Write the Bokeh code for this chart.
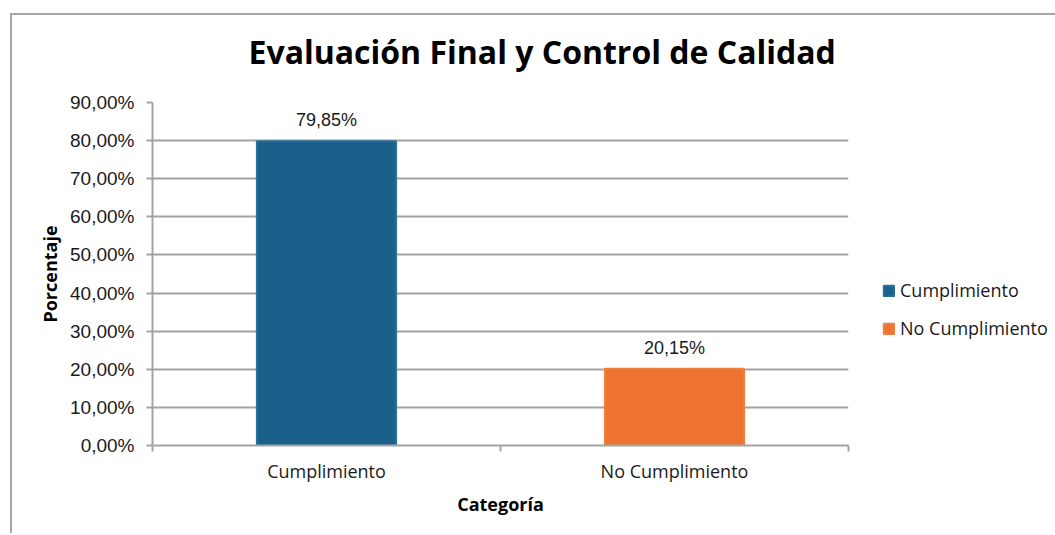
from bokeh.plotting import figure
from bokeh.models import (FixedTicker, Legend, LegendItem, ColumnDataSource, Title)
from bokeh.core.properties import value
from bokeh.embed import file_html
from bokeh.resources import INLINE

# ---- data ----
categories = ["Cumplimiento", "No Cumplimiento"]
percentages = [79.85, 20.15]
bar_colors = ["#19618a", "#ee7331"]
edge_colors = ["#2a6f98", "#f08040"]
y_ticks = [0, 10, 20, 30, 40, 50, 60, 70, 80, 90]
y_tick_labels = ["0,00%", "10,00%", "20,00%", "30,00%", "40,00%",
                 "50,00%", "60,00%", "70,00%", "80,00%", "90,00%"]
title_text = "Evaluación Final y Control de Calidad"
x_label = "Categoría"
y_label = "Porcentaje"

xs = [i + 0.5 for i in range(len(categories))]
labels = [f"{v:.2f}".replace(".", ",") + "%" for v in percentages]
src = ColumnDataSource(dict(x=xs, top=percentages, lab=labels))

GRID = "#a3a3a3"
TXT = "#1a1a1a"
UI_FONT = "Open Sans"
NUM_FONT = "Liberation Sans"
EDGE = "#a6a6a6"

p = figure(frame_width=696, frame_height=343, x_range=(0, len(categories)),
           y_range=(0, 90), output_backend="svg", toolbar_location=None,
           min_border_left=142, min_border_top=102, min_border_bottom=88,
           min_border_right=0)
# chart-area border (left and top edges), drawn behind a transparent canvas
p.styles = {
    "margin-left": "10px",
    "background": (f"linear-gradient({EDGE},{EDGE}) 0 13px / 100% 2px no-repeat, "
                   f"linear-gradient({EDGE},{EDGE}) 0 13px / 2px 100% no-repeat, white"),
}
p.outline_line_color = None
p.background_fill_color = "white"
p.border_fill_alpha = 0

t = Title(text=title_text, align="left", offset=96, standoff=55,
          vertical_align="top",
          text_font=UI_FONT, text_font_size="32px", text_font_style="bold",
          text_color="#000000")
p.add_layout(t, "above")

renderers = []
for i in range(len(categories)):
    r = p.vbar(x=[xs[i]], top=[percentages[i]], width=0.4,
               fill_color=bar_colors[i], line_color=edge_colors[i], line_width=2)
    renderers.append(r)

p.text(x="x", y="top", text="lab", source=src, text_align="center",
       text_baseline="middle", y_offset=-21, text_font=value(NUM_FONT),
       text_font_size="18px", text_color=TXT)

# grid
p.xgrid.grid_line_color = None
p.ygrid.ticker = FixedTicker(ticks=y_ticks)
p.ygrid.grid_line_color = GRID
p.ygrid.grid_line_width = 2

# y axis
ya = p.yaxis[0]
ya.ticker = FixedTicker(ticks=y_ticks, minor_ticks=[])
ya.major_label_overrides = {t_: l for t_, l in zip(y_ticks, y_tick_labels)}
ya.axis_line_color = GRID
ya.axis_line_width = 2
ya.major_tick_line_color = GRID
ya.major_tick_line_width = 2
ya.major_tick_out = 6
ya.major_tick_in = 0
ya.major_label_standoff = 12
ya.major_label_text_font = NUM_FONT
ya.major_label_text_font_size = "19px"
ya.major_label_text_color = TXT
ya.axis_label = y_label
ya.axis_label_text_font = UI_FONT
ya.axis_label_text_font_size = "18px"
ya.axis_label_text_font_style = "bold"
ya.axis_label_text_color = "#000000"
ya.axis_label_standoff = 5

# x axis
xa = p.xaxis[0]
xa.ticker = FixedTicker(ticks=xs, minor_ticks=[float(i) for i in range(len(categories) + 1)])
xa.major_label_overrides = {x_: c for x_, c in zip(xs, categories)}
xa.axis_line_color = GRID
xa.axis_line_width = 2
xa.major_tick_line_color = None
xa.minor_tick_line_color = GRID
xa.minor_tick_line_width = 2
xa.minor_tick_out = 6
xa.minor_tick_in = 0
xa.major_label_standoff = 7
xa.major_label_text_font = UI_FONT
xa.major_label_text_font_size = "18px"
xa.major_label_text_color = TXT
xa.axis_label = x_label
xa.axis_label_text_font = UI_FONT
xa.axis_label_text_font_size = "18px"
xa.axis_label_text_font_style = "bold"
xa.axis_label_text_color = "#000000"
xa.axis_label_standoff = 6

legend = Legend(items=[LegendItem(label=c, renderers=[r]) for c, r in zip(categories, renderers)],
                location=(34, 105), orientation="vertical",
                padding=0, margin=0, spacing=14, label_height=20,
                glyph_width=13, glyph_height=13, label_standoff=5,
                label_text_font=UI_FONT, label_text_font_size="18px",
                label_text_color=TXT, border_line_color=None,
                background_fill_alpha=0)
p.add_layout(legend, "right")

open("out.html", "w").write(file_html(p, INLINE))
